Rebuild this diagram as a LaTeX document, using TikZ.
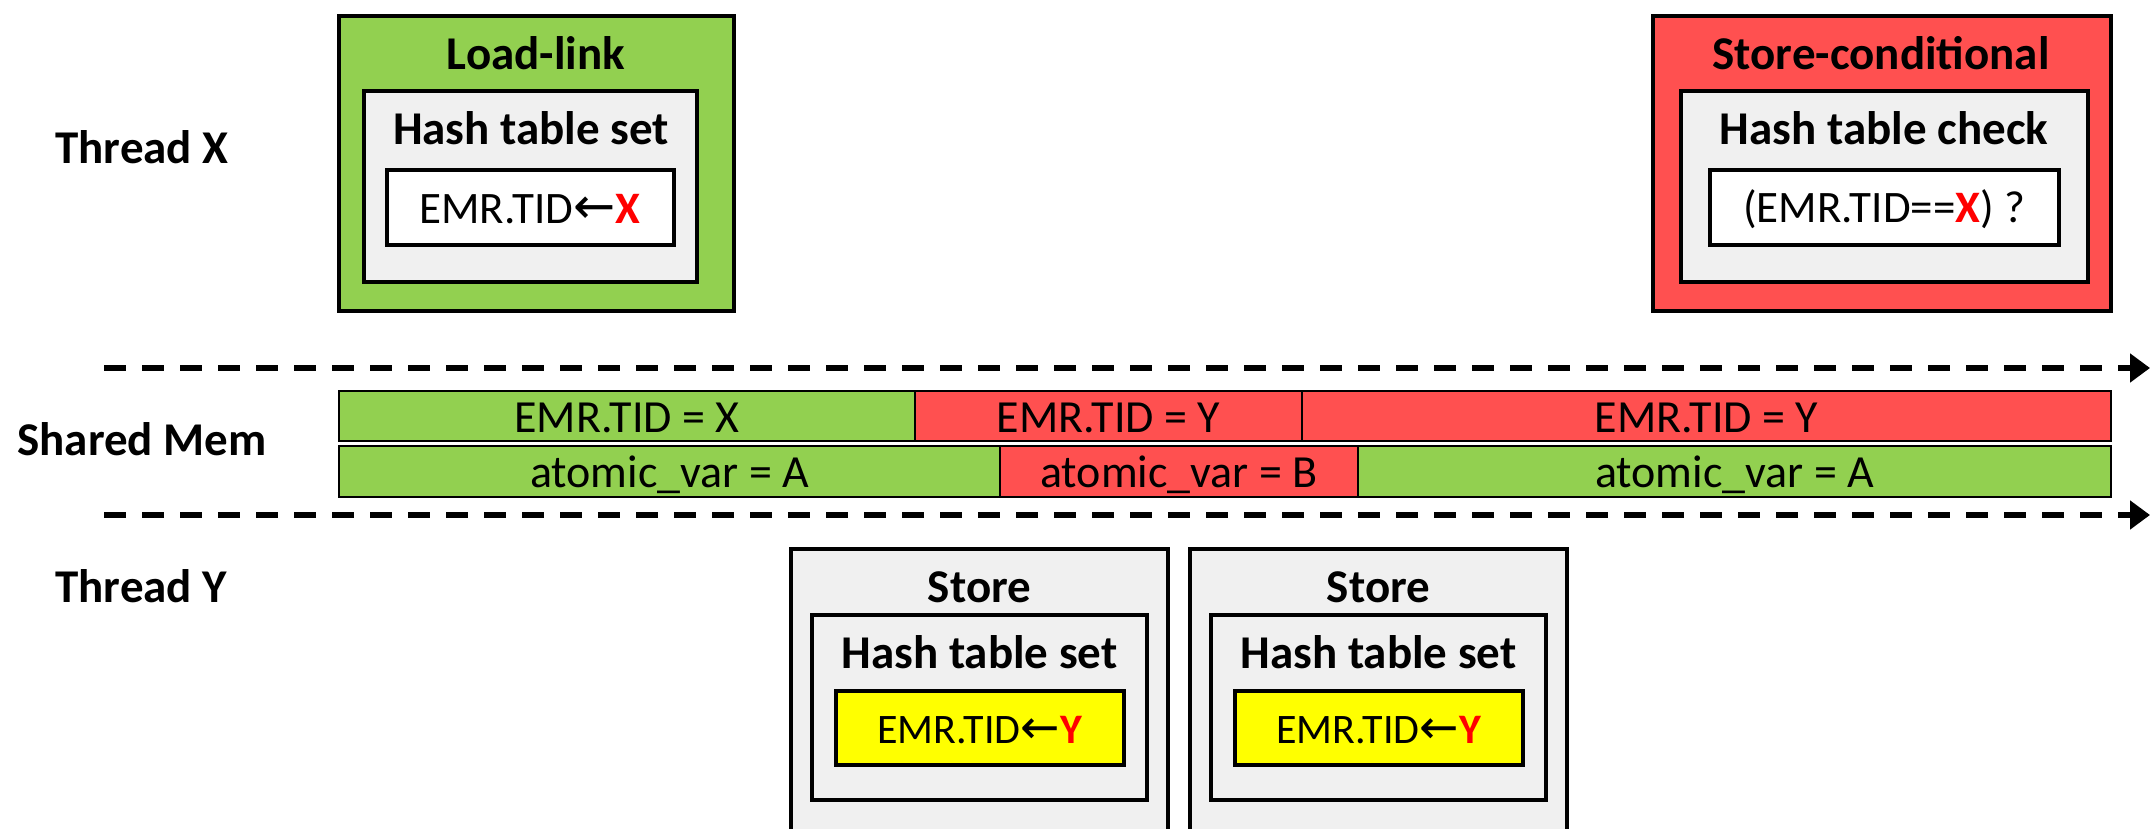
\documentclass[tikz,border=0pt]{standalone}
\usepackage{fontspec}
\setmainfont{Carlito}
\newfontfamily\arrowfont{DejaVu Sans}
\usetikzlibrary{fit,arrows.meta}

\definecolor{llgreen}{HTML}{92D050}
\definecolor{scred}{HTML}{FF5050}
\definecolor{panelgray}{HTML}{F0F0F0}
\definecolor{tidyellow}{HTML}{FFFF00}
\definecolor{tidred}{HTML}{FF0000}

% assignment arrow used inside the hash-table operations
\newcommand\assignarrow{{\arrowfont\fontsize{1.12\dimexpr\csname f@size\endcsname pt\relax}{10}\selectfont ←}}
\newcommand\tid[1]{\textcolor{tidred}{\bfseries #1}}

\begin{document}
\begin{tikzpicture}[x=0.5pt,y=-0.5pt,
  frame/.style={draw=black,line width=2pt,inner sep=0pt},
  cell/.style={draw=black,line width=1.2pt,inner sep=0pt},
  heading/.style={font=\fontsize{23.5}{28}\selectfont\bfseries,anchor=base,inner sep=0pt},
  rowlabel/.style={heading,anchor=base west},
  optext/.style={font=\fontsize{22.5}{27}\selectfont,anchor=base,inner sep=0pt},
  smalltext/.style={font=\fontsize{21}{25}\selectfont,anchor=base,inner sep=0pt},
  celltext/.style={font=\fontsize{23}{27}\selectfont,anchor=base,inner sep=0pt},
  timeline/.style={line width=3pt,dash pattern=on 11pt off 8pt,
    -{Triangle[length=10pt,width=14pt]}}
]
\useasboundingbox (0,0) rectangle (2151,829);
\clip (0,0) rectangle (2151,829);

% row labels
\node[rowlabel] (thx) at (55,163) {Thread X};
\node[rowlabel] (shm) at (17,455) {Shared Mem};
\node[rowlabel] (thy) at (55,602) {Thread Y};

% ---- Thread X: load-link ----
\node[frame,fill=llgreen,fit={(339,16) (734,311)}] (ll) {};
\node[heading] (lltitle) at (536,70) {Load-link};
\node[frame,fill=panelgray,fit={(364,91) (697,282)}] (llhash) {};
\node[heading] (llhashtitle) at (531,145) {Hash table set};
\node[frame,fill=white,fit={(387,170) (674,245)}] (llop) {};
\node[optext] (lloptext) at (530,223) {EMR.TID\assignarrow\tid{X}};

% ---- Thread X: store-conditional ----
\node[frame,fill=scred,fit={(1653,16) (2111,311)}] (sc) {};
\node[heading] (sctitle) at (1881,70) {Store-conditional};
\node[frame,fill=panelgray,fit={(1681,91) (2088,282)}] (schash) {};
\node[heading] (schashtitle) at (1884,145) {Hash table check};
\node[frame,fill=white,fit={(1710,170) (2059,245)}] (scop) {};
\node[optext] (scoptext) at (1884,222) {(EMR.TID==\tid{X}) ?};

% ---- timelines ----
\coordinate (tl1s) at (104,368);
\coordinate (tl1e) at (2150,368);
\coordinate (tl2s) at (104,515);
\coordinate (tl2e) at (2150,515);
\draw[timeline] (tl1s) -- (tl1e);
\draw[timeline] (tl2s) -- (tl2e);

% ---- shared memory: EMR.TID row ----
\node[cell,fill=llgreen,fit={(339,391) (915,441)}] (t1) {};
\node[cell,fill=scred,fit={(915,391) (1302,441)}] (t2) {};
\node[cell,fill=scred,fit={(1302,391) (2111,441)}] (t3) {};
\node[celltext] at (t1.center |- 0,432) {EMR.TID = X};
\node[celltext] at (t2.center |- 0,432) {EMR.TID = Y};
\node[celltext] at (t3.center |- 0,432) {EMR.TID = Y};

% ---- shared memory: atomic_var row ----
\node[cell,fill=llgreen,fit={(339,446) (1000,497)}] (a1) {};
\node[cell,fill=scred,fit={(1000,446) (1358,497)}] (a2) {};
\node[cell,fill=llgreen,fit={(1358,446) (2111,497)}] (a3) {};
\node[celltext] at (a1.center |- 0,487) {atomic\_var = A};
\node[celltext] at (a2.center |- 0,487) {atomic\_var = B};
\node[celltext] at (a3.center |- 0,487) {atomic\_var = A};

% ---- Thread Y: two stores ----
\foreach \cx/\nm in {979.5/st1, 1378.5/st2} {
  \node[frame,fill=panelgray,fit={(\cx-188.5,549) (\cx+188.5,880)}] (\nm) {};
  \node[heading] (\nm title) at (\cx,602) {Store};
  \node[frame,fill=panelgray,fit={(\cx-167.5,615) (\cx+167.5,800)}] (\nm hash) {};
  \node[heading] (\nm hashtitle) at (\cx,668) {Hash table set};
  \node[frame,fill=tidyellow,fit={(\cx-144,691) (\cx+144,765)}] (\nm op) {};
  \node[smalltext] (\nm optext) at (\cx,743) {EMR.TID\assignarrow\tid{Y}};
}
\end{tikzpicture}
\end{document}
